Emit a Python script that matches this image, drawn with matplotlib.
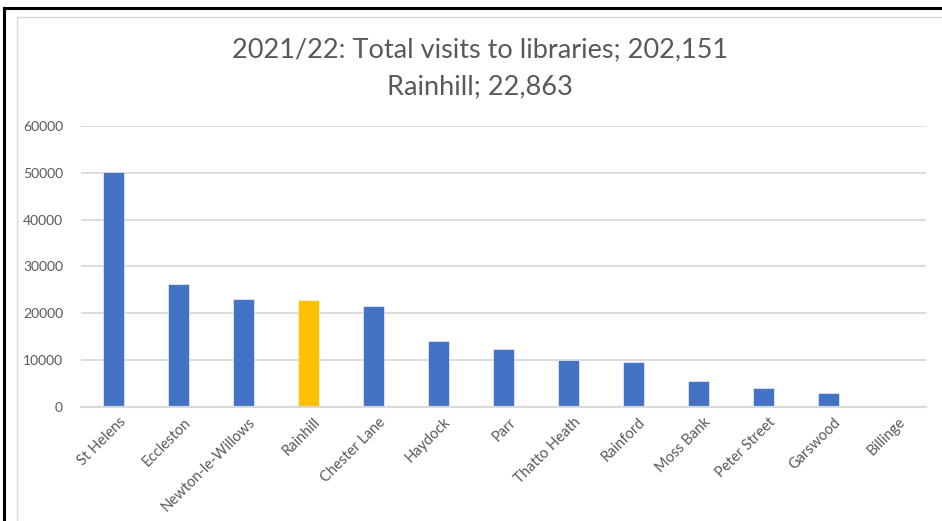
import matplotlib
matplotlib.use("Agg")
import matplotlib.pyplot as plt
from matplotlib.lines import Line2D
from matplotlib.transforms import ScaledTranslation

# library visits 2021/22
libraries = ["St Helens", "Eccleston", "Newton-le-Willows", "Rainhill", "Chester Lane",
             "Haydock", "Parr", "Thatto Heath", "Rainford", "Moss Bank",
             "Peter Street", "Garswood", "Billinge"]
visits = [50100, 26300, 23000, 22863, 21600, 14100, 12400, 10000, 9600, 5600, 4000, 2900, 0]
highlight = "Rainhill"
y_ticks = [0, 10000, 20000, 30000, 40000, 50000, 60000]

BLUE = "#4472C4"
GOLD = "#FFC000"
GRID = "#D9D9D9"
TEXT = "#595959"

plt.rcParams["font.family"] = ["Lato", "DejaVu Sans"]

W, H = 942, 521
fig = plt.figure(figsize=(W / 100, H / 100), dpi=100)

# plot area in pixel terms
left, right, top, bottom = 81, 926, 126, 406.7
ax = fig.add_axes([left / W, 1 - bottom / H, (right - left) / W, (bottom - top) / H])

colors = [GOLD if name == highlight else BLUE for name in libraries]
x = range(len(libraries))
ax.bar(x, visits, width=0.31, color=colors, edgecolor="white", linewidth=0.4, zorder=3)

ax.set_xlim(-0.5, len(libraries) - 0.5)
ax.set_ylim(0, 60000)
ax.set_yticks(y_ticks)
ax.set_yticklabels([str(v) for v in y_ticks], fontsize=10, color=TEXT)
ax.set_xticks(list(x))
ax.set_xticklabels(libraries, rotation=45, ha="right", va="top",
                   rotation_mode="anchor", fontsize=10.5, color=TEXT)
ax.tick_params(axis="both", length=0)
ax.tick_params(axis="y", pad=13)
ax.tick_params(axis="x", pad=6)
# nudge the slanted labels a little to the right, like the original
shift = ScaledTranslation(5 / 100, 0, fig.dpi_scale_trans)
for lbl in ax.get_xticklabels():
    lbl.set_transform(lbl.get_transform() + shift)

ax.grid(axis="y", color=GRID, linewidth=1.3, zorder=0)
for s in ["top", "right", "left"]:
    ax.spines[s].set_visible(False)
ax.spines["bottom"].set_color(GRID)
ax.spines["bottom"].set_linewidth(1.6)
ax.spines["bottom"].set_zorder(4)

# title
fig.text(480 / W, 1 - 50 / H, "2021/22: Total visits to libraries; 202,151",
         ha="center", va="center", fontsize=19.5, color=TEXT)
fig.text(480 / W, 1 - 87 / H, "Rainhill; 22,863",
         ha="center", va="center", fontsize=19.5, color=TEXT)

# outer black frame (left + top) and inner grey chart border
fig.add_artist(Line2D([3.5 / W, 3.5 / W], [0, 1 - 7.5 / H], color="black", linewidth=2.2))
fig.add_artist(Line2D([3.5 / W, 1], [1 - 7.5 / H, 1 - 7.5 / H], color="black", linewidth=2.2))
fig.add_artist(Line2D([17 / W, 17 / W], [0, 1 - 17 / H], color=GRID, linewidth=1.0))
fig.add_artist(Line2D([17 / W, 1], [1 - 17 / H, 1 - 17 / H], color=GRID, linewidth=1.0))

fig.savefig("out.png", dpi=100)
